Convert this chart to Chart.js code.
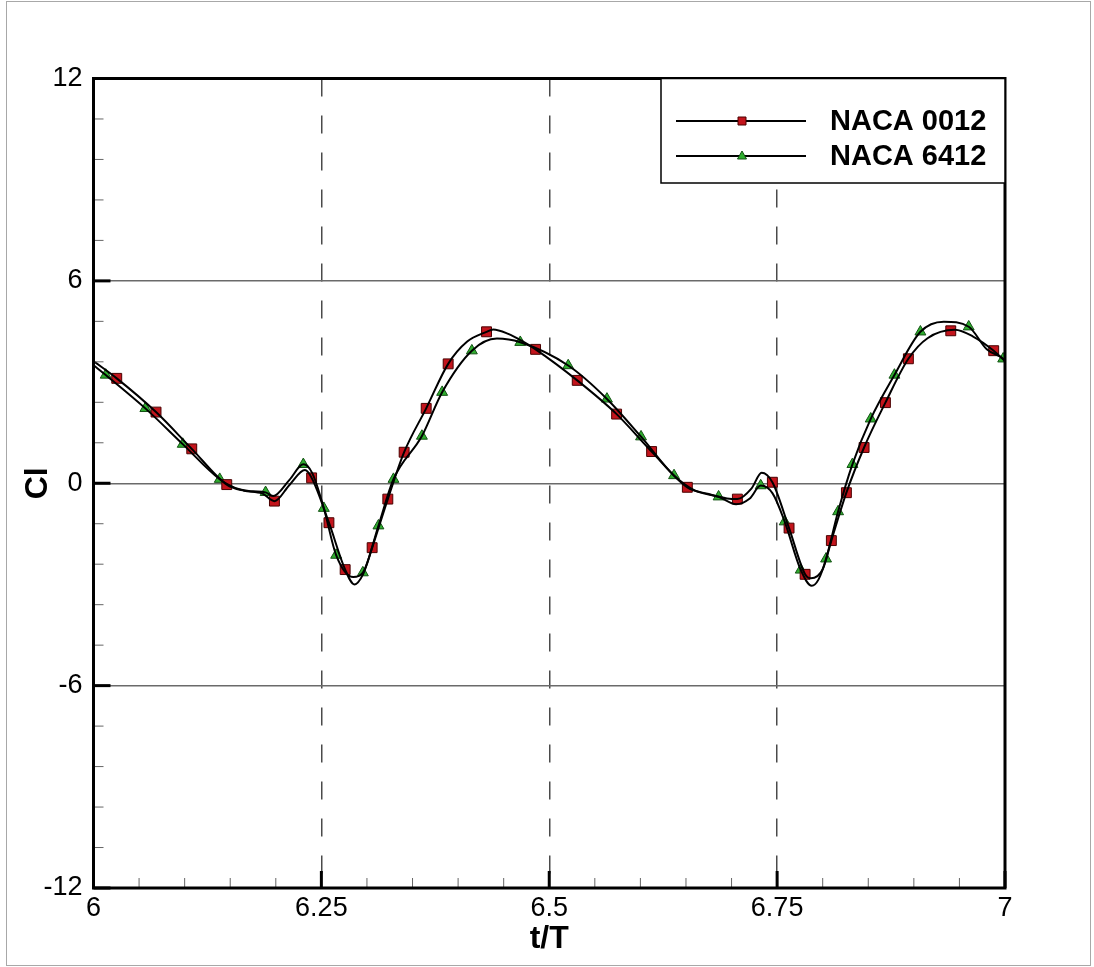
<!DOCTYPE html>
<html>
<head>
<meta charset="utf-8">
<title>Cl vs t/T</title>
<script src="https://cdn.jsdelivr.net/npm/chart.js@4.4.1/dist/chart.umd.min.js"></script>
<style>
  html, body { margin: 0; padding: 0; background: #fff; }
  canvas { display: block; }
</style>
</head>
<body>
<canvas id="cl-chart" width="1094" height="967"></canvas>
<script>
// Lift coefficient over one flapping period.
// Each airfoil has a smooth curve (line) and a sparse set of markers on it.

const seriesNames = ["NACA 0012", "NACA 6412"];

// NACA 0012 curve
const t0012 = [6.000, 6.0255, 6.0686, 6.1078, 6.1462, 6.165, 6.185, 6.1985, 6.215, 6.232,
  6.2393, 6.2583, 6.2761, 6.2862, 6.2957, 6.3057, 6.3229, 6.3408, 6.365, 6.3891,
  6.410, 6.4312, 6.4385, 6.455, 6.470, 6.485, 6.5307, 6.5739, 6.6123, 6.6515,
  6.675, 6.695, 6.7064, 6.722, 6.733, 6.7448, 6.7631, 6.7807, 6.787, 6.800,
  6.8095, 6.826, 6.8454, 6.8688, 6.894, 6.915, 6.945, 6.965, 6.9876, 7.000];
const cl0012 = [3.62, 3.11, 2.11, 1.02, -0.04, -0.22, -0.30, -0.53, -0.05, 0.39,
  0.16, -1.17, -2.56, -3.00, -2.70, -1.91, -0.47, 0.92, 2.22, 3.54,
  4.20, 4.49, 4.56, 4.43, 4.22, 3.97, 3.05, 2.05, 0.94, -0.12,
  -0.32, -0.45, -0.47, -0.15, 0.31, 0.03, -1.33, -2.70, -2.82, -2.55,
  -1.70, -0.28, 1.06, 2.39, 3.69, 4.30, 4.55, 4.35, 3.93, 3.62];

// NACA 6412 curve
const t6412 = [6.000, 6.0134, 6.0569, 6.0979, 6.1385, 6.160, 6.175, 6.1888, 6.197, 6.215,
  6.2302, 6.240, 6.2527, 6.2662, 6.285, 6.2955, 6.3126, 6.3291, 6.3603, 6.3825,
  6.4151, 6.4426, 6.4682, 6.5208, 6.5633, 6.6007, 6.6369, 6.660, 6.6858, 6.705,
  6.720, 6.732, 6.745, 6.7583, 6.7759, 6.788, 6.7955, 6.8037, 6.8169, 6.8326,
  6.8527, 6.8787, 6.9072, 6.9328, 6.9602, 6.980, 6.998, 7.000];
const cl6412 = [3.50, 3.21, 2.22, 1.16, 0.12, -0.18, -0.24, -0.27, -0.38, 0.10,
  0.56, 0.30, -0.74, -2.13, -2.78, -2.65, -1.26, 0.12, 1.40, 2.70,
  3.93, 4.29, 4.18, 3.49, 2.50, 1.38, 0.23, -0.22, -0.40, -0.62,
  -0.45, -0.07, -0.30, -1.14, -2.57, -3.04, -2.85, -2.24, -0.84, 0.56,
  1.91, 3.21, 4.49, 4.79, 4.64, 3.97, 3.69, 3.62];

// marker positions
const tMark0012 = [6.0255, 6.0686, 6.1078, 6.1462, 6.1985, 6.2393, 6.2583, 6.2761, 6.3057, 6.3229,
  6.3408, 6.365, 6.3891, 6.4312, 6.485, 6.5307, 6.5739, 6.6123, 6.6515, 6.7064,
  6.7448, 6.7631, 6.7807, 6.8095, 6.826, 6.8454, 6.8688, 6.894, 6.9405, 6.9876];
const clMark0012 = [3.11, 2.11, 1.02, -0.04, -0.53, 0.16, -1.17, -2.56, -1.91, -0.47,
  0.92, 2.22, 3.54, 4.49, 3.97, 3.05, 2.05, 0.94, -0.12, -0.47,
  0.03, -1.33, -2.70, -1.70, -0.28, 1.06, 2.39, 3.69, 4.52, 3.93];
const tMark6412 = [6.0134, 6.0569, 6.0979, 6.1385, 6.1888, 6.2302, 6.2527, 6.2662, 6.2955, 6.3126,
  6.3291, 6.3603, 6.3825, 6.4151, 6.4682, 6.5208, 6.5633, 6.6007, 6.6369, 6.6858,
  6.732, 6.7583, 6.7759, 6.8037, 6.8169, 6.8326, 6.8527, 6.8787, 6.9072, 6.9602, 6.998];
const clMark6412 = [3.21, 2.22, 1.16, 0.12, -0.27, 0.56, -0.74, -2.13, -2.65, -1.26,
  0.12, 1.40, 2.70, 3.93, 4.18, 3.49, 2.50, 1.38, 0.23, -0.40,
  -0.07, -1.14, -2.57, -2.24, -0.84, 0.56, 1.91, 3.21, 4.49, 4.64, 3.69];

// axes
const xMin = 6, xMax = 7, xMinorStep = 0.05, xMajorStep = 0.25;
const yMin = -12, yMax = 12, yMinorStep = 1.2, yMajorStep = 6;

const FONT = "'Liberation Sans', Arial, sans-serif";
const zip = (xs, ys) => xs.map((x, i) => ({ x, y: ys[i] }));
const onStep = (v, step) => Math.abs(v / step - Math.round(v / step)) < 1e-6;
const inside = (v, lo, hi) => v > lo + 1e-6 && v < hi - 1e-6;

const red = { fill: "#c3141c", edge: "#4a0000" };
const green = { fill: "#2fae2f", edge: "#145214" };

function lineSet(label, xs, ys) {
  return {
    label, data: zip(xs, ys), borderColor: "#000", borderWidth: 2,
    pointRadius: 0, cubicInterpolationMode: "monotone", fill: false,
  };
}

function markSet(label, xs, ys, style, c, r) {
  return {
    label, data: zip(xs, ys), showLine: false, pointStyle: style, pointRadius: r,
    pointBackgroundColor: c.fill, pointBorderColor: c.edge, pointBorderWidth: 1,
  };
}

// inward ticks, plot frame, outer border and the boxed legend
const decor = {
  id: "decor",
  afterDatasetsDraw(chart) {
    const { ctx, chartArea: a, scales: { x, y } } = chart;
    ctx.save();
    x.ticks.forEach((t) => {
      const major = onStep(t.value, xMajorStep);
      const px = x.getPixelForValue(t.value);
      ctx.beginPath();
      ctx.lineWidth = major ? 3 : 1;
      ctx.strokeStyle = major ? "#000" : "#666";
      ctx.moveTo(px, a.bottom);
      ctx.lineTo(px, a.bottom - (major ? 17 : 10));
      ctx.stroke();
    });
    y.ticks.forEach((t) => {
      const major = onStep(t.value, yMajorStep);
      const py = y.getPixelForValue(t.value);
      ctx.beginPath();
      ctx.lineWidth = major ? 3 : 1;
      ctx.strokeStyle = major ? "#000" : "#666";
      ctx.moveTo(a.left, py);
      ctx.lineTo(a.left + (major ? 17 : 10), py);
      ctx.stroke();
    });

    ctx.lineWidth = 3;
    ctx.strokeStyle = "#000";
    ctx.strokeRect(a.left, a.top, a.width, a.height);

    ctx.lineWidth = 1;
    ctx.strokeStyle = "#a8a8a8";
    ctx.strokeRect(6.5, 1.5, 1084, 964);

    // legend box in the top-right corner of the plot
    const box = { left: 661, top: a.top, right: a.right, bottom: 183 };
    ctx.fillStyle = "#fff";
    ctx.fillRect(box.left, box.top, box.right - box.left, box.bottom - box.top);
    ctx.lineWidth = 1.5;
    ctx.strokeStyle = "#000";
    ctx.strokeRect(box.left, box.top, box.right - box.left, box.bottom - box.top);

    const rows = [
      { name: seriesNames[0], y: 121, shape: "rect", c: red },
      { name: seriesNames[1], y: 156, shape: "triangle", c: green },
    ];
    rows.forEach((r) => {
      ctx.beginPath();
      ctx.lineWidth = 2;
      ctx.strokeStyle = "#000";
      ctx.moveTo(676, r.y);
      ctx.lineTo(806, r.y);
      ctx.stroke();

      ctx.beginPath();
      if (r.shape === "rect") {
        ctx.rect(742 - 4, r.y - 4, 8, 8);
      } else {
        ctx.moveTo(742, r.y - 5);
        ctx.lineTo(746.5, r.y + 3);
        ctx.lineTo(737.5, r.y + 3);
        ctx.closePath();
      }
      ctx.fillStyle = r.c.fill;
      ctx.fill();
      ctx.lineWidth = 1;
      ctx.strokeStyle = r.c.edge;
      ctx.stroke();

      ctx.fillStyle = "#000";
      ctx.font = `bold 29px ${FONT}`;
      ctx.textAlign = "left";
      ctx.textBaseline = "middle";
      ctx.fillText(r.name, 830, r.y + 1);
    });
    ctx.restore();
  },
};

new Chart(document.getElementById("cl-chart"), {
  type: "line",
  data: {
    datasets: [
      lineSet(seriesNames[0], t0012, cl0012),
      lineSet(seriesNames[1], t6412, cl6412),
      markSet(seriesNames[0] + " markers", tMark0012, clMark0012, "rect", red, 7),
      markSet(seriesNames[1] + " markers", tMark6412, clMark6412, "triangle", green, 6.3),
    ],
  },
  options: {
    responsive: false,
    animation: false,
    events: [],
    layout: { padding: { left: 0, top: 78.5, right: 89, bottom: 0 } },
    plugins: { legend: { display: false }, tooltip: { enabled: false } },
    scales: {
      x: {
        type: "linear", min: xMin, max: xMax,
        afterFit: (s) => { s.height = 79; },
        ticks: {
          stepSize: xMinorStep, autoSkip: false, maxRotation: 0, padding: 4,
          color: "#000", font: { family: FONT, size: 27 },
          callback: (v) => (onStep(v, xMajorStep) ? String(Math.round(v * 100) / 100) : ""),
        },
        grid: {
          drawTicks: false, lineWidth: 1.5,
          color: (c) => (c.tick && onStep(c.tick.value, xMajorStep) && inside(c.tick.value, xMin, xMax) ? "#4a4a4a" : "rgba(0,0,0,0)"),
        },
        border: { display: false, dash: [18, 19] },
        title: { display: true, text: "t/T", color: "#000", font: { family: FONT, size: 32, weight: "bold" }, padding: { top: 0, bottom: 9 } },
      },
      y: {
        type: "linear", min: yMin, max: yMax,
        afterFit: (s) => { s.width = 93.5; },
        ticks: {
          stepSize: yMinorStep, autoSkip: false, padding: 11,
          color: "#000", font: { family: FONT, size: 27 },
          callback: (v) => (onStep(v, yMajorStep) ? String(Math.round(v)) : ""),
        },
        grid: {
          drawTicks: false, lineWidth: 1.5,
          color: (c) => (c.tick && onStep(c.tick.value, yMajorStep) && inside(c.tick.value, yMin, yMax) ? "#6a6a6a" : "rgba(0,0,0,0)"),
        },
        border: { display: false },
        title: { display: true, text: "Cl", color: "#000", font: { family: FONT, size: 32, weight: "bold" }, padding: { top: 19, bottom: 0 } },
      },
    },
  },
  plugins: [decor],
});
</script>
</body>
</html>
